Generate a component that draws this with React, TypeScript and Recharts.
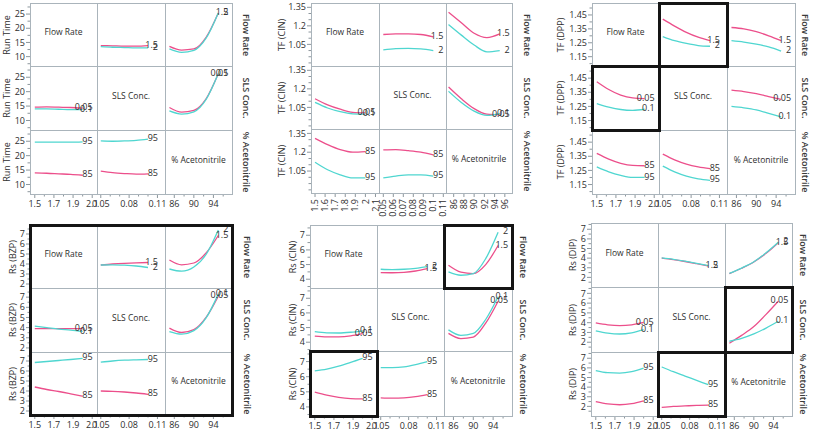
import React from 'react';
import { LineChart, Line, XAxis, YAxis } from 'recharts';

const PINK = '#ec4f8b';
const CYAN = '#4fd6d0';
const GRID = '#aab4bb';
const TICK = '#8d979d';
const INK = '#2e2e2e';
const FONT = '"Open Sans", "Noto Sans", sans-serif';

// factors (rows and columns of every matrix)
const factorNames = ['Flow Rate', 'SLS Conc.', '% Acetonitrile'];
const factorLevels = [['1.5', '2'], ['0.05', '0.1'], ['85', '95']];
const flowX = [1.5, 1.625, 1.75, 1.875, 2.0];
const slsX = [0.05, 0.0625, 0.075, 0.0875, 0.1];
const acnX = [85, 87.5, 90, 92.5, 95];
const factorX = [flowX, slsX, acnX];

// x ticks
const flowTicks = [1.5, 1.7, 1.9, 2.1];
const flowMinor = [1.6, 1.8, 2.0];
const slsTicks = [0.05, 0.08, 0.11];
const slsMinor = [0.06, 0.07, 0.09, 0.1];
const acnTicks = [86, 90, 94];
const acnMinor = [88, 92, 96];
const flowTicksFine = [1.5, 1.6, 1.7, 1.8, 1.9, 2, 2.1];
const slsTicksFine = [0.05, 0.06, 0.07, 0.08, 0.09, 0.1, 0.11];
const acnTicksFine = [86, 88, 90, 92, 94, 96];

// y ticks
const runTimeTicks = [10, 15, 20, 25];
const runTimeMinor = [7.5, 12.5, 17.5, 22.5, 27.5];
const tfCinTicks = [1.05, 1.2, 1.35];
const tfCinMinor = [0.9, 0.95, 1.0, 1.1, 1.15, 1.25, 1.3];
const tfDppTicks = [1.15, 1.25, 1.35, 1.45];
const tfDppMinor = [1.1, 1.2, 1.3, 1.4, 1.5];
const rsBzpTicks = [2, 3, 4, 5, 6, 7];
const rsBzpMinor = [2.5, 3.5, 4.5, 5.5, 6.5, 7.5];
const rsCinTicks = [4, 5, 6, 7];
const rsCinMinor = [3.5, 4.5, 5.5, 6.5, 7.5];
const rsDipTicks = [2, 3, 4, 5, 6, 7];
const rsDipMinor = [1.5, 2.5, 3.5, 4.5, 5.5, 6.5, 7.5];

type Curves = number[][] | null;

// [row][col] -> [low level of row factor (pink), high level (cyan)]
const runTimeCurves: Curves[][] = [
  [null, [[13.9, 13.8, 13.7, 13.7, 13.9], [13.5, 13.3, 13.2, 13.1, 13.1]], [[13.6, 12.3, 12.7, 16.8, 25.4], [12.7, 11.5, 12.2, 16.5, 25.4]]],
  [[[14.6, 14.7, 14.6, 14.5, 14.3], [14.0, 14.0, 13.9, 13.8, 13.8]], null, [[14.5, 12.9, 13.5, 17.5, 26.2], [13.3, 12.2, 13.0, 17.3, 26.3]]],
  [[[14.0, 13.9, 13.7, 13.5, 13.2], [24.7, 24.7, 24.7, 24.7, 24.8]], [[14.6, 14.1, 13.8, 13.6, 13.7], [25.1, 25.0, 25.1, 25.3, 25.7]], null],
];

const tfCinCurves: Curves[][] = [
  [null, [[1.13, 1.135, 1.135, 1.13, 1.11], [1.005, 1.015, 1.018, 1.013, 1.0]], [[1.31, 1.225, 1.14, 1.105, 1.135], [1.21, 1.125, 1.045, 0.99, 1.0]]],
  [[[1.12, 1.07, 1.035, 1.01, 1.005], [1.09, 1.045, 1.015, 0.998, 0.995]], null, [[1.215, 1.12, 1.04, 0.995, 0.99], [1.18, 1.09, 1.02, 0.985, 1.0]]],
  [[[1.31, 1.26, 1.22, 1.2, 1.205], [1.12, 1.06, 1.02, 0.995, 0.995]], [[1.218, 1.22, 1.212, 1.2, 1.178], [0.995, 1.01, 1.02, 1.02, 1.01]], null],
];

const tfDppCurves: Curves[][] = [
  [null, [[1.42, 1.37, 1.325, 1.29, 1.265], [1.295, 1.265, 1.245, 1.23, 1.225]], [[1.36, 1.35, 1.33, 1.3, 1.265], [1.265, 1.255, 1.24, 1.22, 1.19]]],
  [[[1.425, 1.37, 1.33, 1.31, 1.305], [1.27, 1.245, 1.228, 1.222, 1.23]], null, [[1.365, 1.355, 1.34, 1.32, 1.3], [1.25, 1.24, 1.225, 1.2, 1.175]]],
  [[[1.37, 1.33, 1.3, 1.285, 1.283], [1.275, 1.24, 1.215, 1.2, 1.2]], [[1.365, 1.325, 1.295, 1.275, 1.262], [1.28, 1.24, 1.21, 1.19, 1.18]], null],
];

const rsBzpCurves: Curves[][] = [
  [null, [[3.9, 4.0, 4.07, 4.12, 4.15], [3.9, 3.92, 3.88, 3.8, 3.65]], [[4.4, 3.92, 4.1, 5.1, 6.85], [3.5, 3.28, 3.7, 4.95, 7.4]]],
  [[[3.9, 3.9, 3.9, 3.9, 3.9], [4.15, 4.0, 3.85, 3.75, 3.62]], null, [[3.95, 3.52, 3.8, 5.0, 7.1], [3.6, 3.35, 3.7, 4.95, 7.3]]],
  [[[4.4, 4.15, 3.95, 3.72, 3.48], [6.85, 6.95, 7.05, 7.15, 7.27]], [[4.0, 3.97, 3.9, 3.8, 3.67], [6.88, 7.0, 7.08, 7.12, 7.15]], null],
];

const rsCinCurves: Curves[][] = [
  [null, [[4.45, 4.44, 4.47, 4.56, 4.72], [4.68, 4.66, 4.68, 4.74, 4.86]], [[4.95, 4.48, 4.38, 5.0, 6.3], [4.5, 4.27, 4.38, 5.4, 7.2]]],
  [[[4.42, 4.37, 4.37, 4.43, 4.58], [4.72, 4.64, 4.63, 4.68, 4.78]], null, [[4.6, 4.25, 4.35, 5.3, 6.8], [4.84, 4.47, 4.6, 5.55, 7.1]]],
  [[[4.98, 4.78, 4.63, 4.55, 4.53], [6.38, 6.5, 6.7, 6.95, 7.22]], [[4.6, 4.58, 4.6, 4.68, 4.82], [6.6, 6.6, 6.65, 6.8, 7.0]], null],
];

const rsDipCurves: Curves[][] = [
  [null, [[4.0, 3.85, 3.65, 3.42, 3.18], [4.02, 3.88, 3.68, 3.46, 3.22]], [[2.4, 2.95, 3.6, 4.5, 5.6], [2.42, 2.97, 3.62, 4.55, 5.65]]],
  [[[3.97, 3.78, 3.7, 3.78, 4.03], [3.17, 2.93, 2.84, 2.96, 3.28]], null, [[1.9, 2.7, 3.6, 4.85, 6.2], [2.1, 2.4, 2.85, 3.45, 4.15]]],
  [[[2.5, 2.25, 2.17, 2.28, 2.58], [5.72, 5.5, 5.45, 5.6, 5.97]], [[1.9, 2.0, 2.05, 2.1, 2.12], [6.1, 5.6, 5.15, 4.7, 4.25]], null],
];

interface Panel {
  yTitle: string;
  colX: number[];
  rowY: number[];
  yDomain: [number, number];
  yMajor: number[];
  yMinor: number[];
  xDomains: [number, number][];
  xMajor: number[][];
  xMinor: number[][];
  rotateX: boolean;
  curves: Curves[][];
  titleX: number;
  sideX: number;
  boxes: [number, number][];
  boxAll: boolean;
}

const stdX: [number, number][] = [[1.45, 2.15], [0.046, 0.118], [84.1, 97.8]];
const stdMajor = [flowTicks, slsTicks, acnTicks];
const stdMinor = [flowMinor, slsMinor, acnMinor];

const panels: Panel[] = [
  {
    yTitle: 'Run Time', colX: [30, 97, 165, 232], rowY: [3, 66, 130, 194],
    yDomain: [6.7, 28.9], yMajor: runTimeTicks, yMinor: runTimeMinor,
    xDomains: stdX, xMajor: stdMajor, xMinor: stdMinor, rotateX: false,
    curves: runTimeCurves, titleX: 6, sideX: 245.5, boxes: [], boxAll: false,
  },
  {
    yTitle: 'TF (CIN)', colX: [311, 379, 446, 512], rowY: [3, 66, 129, 193],
    yDomain: [0.875, 1.385], yMajor: tfCinTicks, yMinor: tfCinMinor,
    xDomains: [[1.46, 2.135], [0.0457, 0.1127], [84.5, 97.4]],
    xMajor: [flowTicksFine, slsTicksFine, acnTicksFine], xMinor: [[], [], []], rotateX: true,
    curves: tfCinCurves, titleX: 280.5, sideX: 527, boxes: [], boxAll: false,
  },
  {
    yTitle: 'TF (DPP)', colX: [592, 659, 727, 795], rowY: [3, 66, 130, 194],
    yDomain: [1.083, 1.536], yMajor: tfDppTicks, yMinor: tfDppMinor,
    xDomains: stdX, xMajor: stdMajor, xMinor: stdMinor, rotateX: false,
    curves: tfDppCurves, titleX: 560, sideX: 805, boxes: [[0, 1], [1, 0]], boxAll: false,
  },
  {
    yTitle: 'Rs (BZP)', colX: [30, 97, 165, 232], rowY: [225, 288, 352, 415],
    yDomain: [1.6, 7.9], yMajor: rsBzpTicks, yMinor: rsBzpMinor,
    xDomains: stdX, xMajor: stdMajor, xMinor: stdMinor, rotateX: false,
    curves: rsBzpCurves, titleX: 11.5, sideX: 247, boxes: [], boxAll: true,
  },
  {
    yTitle: 'Rs (CIN)', colX: [310, 377, 444, 512], rowY: [225, 288, 351, 416],
    yDomain: [3.4, 7.7], yMajor: rsCinTicks, yMinor: rsCinMinor,
    xDomains: stdX, xMajor: stdMajor, xMinor: stdMinor, rotateX: false,
    curves: rsCinCurves, titleX: 291.5, sideX: 523, boxes: [[0, 2], [2, 0]], boxAll: false,
  },
  {
    yTitle: 'Rs (DIP)', colX: [591, 658, 725, 792], rowY: [223, 287, 352, 416],
    yDomain: [1.0, 7.65], yMajor: rsDipTicks, yMinor: rsDipMinor,
    xDomains: stdX, xMajor: stdMajor, xMinor: stdMinor, rotateX: false,
    curves: rsDipCurves, titleX: 571.5, sideX: 803, boxes: [[1, 2], [2, 1]], boxAll: false,
  },
];

const isIn = (list: number[], v: number) => list.some((m) => Math.abs(m - v) < 1e-9);

const yTick = (major: number[]) => (props: any) => {
  const { x, y, payload } = props;
  const big = isIn(major, payload.value);
  return (
    <g>
      <line x1={x - (big ? 4 : 2.5)} x2={x} y1={y} y2={y} stroke={TICK} strokeWidth={1} />
      {big && (
        <text x={x - 5} y={y} dy="0.35em" textAnchor="end" fontSize={9} fill={INK} fontFamily={FONT}>
          {String(payload.value)}
        </text>
      )}
    </g>
  );
};

const xTick = (major: number[], rotate: boolean) => (props: any) => {
  const { x, y, payload } = props;
  const big = isIn(major, payload.value);
  return (
    <g>
      <line x1={x} x2={x} y1={y} y2={y + (big ? 4 : 2.5)} stroke={TICK} strokeWidth={1} />
      {big && !rotate && (
        <text x={x} y={y + 13} textAnchor="middle" fontSize={9} fill={INK} fontFamily={FONT}>
          {String(payload.value)}
        </text>
      )}
      {big && rotate && (
        <text transform={`translate(${x},${y + 6}) rotate(-90)`} dy="0.35em" textAnchor="end" fontSize={9} fill={INK} fontFamily={FONT}>
          {String(payload.value)}
        </text>
      )}
    </g>
  );
};

const endDot = (text: string, last: number) => (props: any) => {
  const { cx, cy, index } = props;
  if (index !== last || cx == null || cy == null) return <g key={`d${index}`} />;
  return (
    <text key={`d${index}`} x={cx + 10} y={cy - 1} dy="0.35em" textAnchor="end" fontSize={9} fill={INK} fontFamily={FONT}>
      {text}
    </text>
  );
};

function Cell({ p, r, c }: { p: Panel; r: number; c: number }) {
  const left = p.colX[c];
  const top = p.rowY[r];
  const w = p.colX[c + 1] - left;
  const h = p.rowY[r + 1] - top;
  const showY = c === 0;
  const showX = r === 2;
  const yw = showY ? 30 : 0;
  const xh = showX ? (p.rotateX ? 28 : 16) : 0;
  const curves = p.curves[r][c];
  const xs = factorX[c];
  const rows = xs.map((x, i) => ({
    x,
    a: curves ? curves[0][i] : null,
    b: curves ? curves[1][i] : null,
  }));
  const last = xs.length - 1;
  const lv = factorLevels[r];
  return (
    <div style={{ position: 'absolute', left: left - yw, top }}>
      <LineChart width={w + yw} height={h + xh} data={rows} margin={{ top: 0, right: 0, bottom: 0, left: 0 }}>
        <XAxis
          type="number"
          dataKey="x"
          domain={p.xDomains[c]}
          allowDataOverflow={!curves}
          hide={!showX}
          height={xh || 1}
          ticks={[...p.xMajor[c], ...p.xMinor[c]]}
          interval={0}
          tickLine={false}
          axisLine={false}
          tickSize={0}
          tickMargin={0}
          tick={xTick(p.xMajor[c], p.rotateX)}
        />
        <YAxis
          type="number"
          domain={p.yDomain}
          allowDataOverflow={!curves}
          hide={!showY}
          width={yw || 1}
          ticks={[...p.yMajor, ...p.yMinor]}
          interval={0}
          tickLine={false}
          axisLine={false}
          tickSize={0}
          tickMargin={0}
          tick={yTick(p.yMajor)}
        />
        {curves && (
          <Line type="monotone" dataKey="a" stroke={PINK} strokeWidth={1.3} dot={endDot(lv[0], last)} activeDot={false} isAnimationActive={false} />
        )}
        {curves && (
          <Line type="monotone" dataKey="b" stroke={CYAN} strokeWidth={1.3} dot={endDot(lv[1], last)} activeDot={false} isAnimationActive={false} />
        )}
      </LineChart>
      {!curves && (
        <div
          style={{
            position: 'absolute', left: yw, top: 0, width: w, height: h - 6,
            display: 'flex', alignItems: 'center', justifyContent: 'center',
            fontSize: 8.5, color: INK, fontFamily: FONT, whiteSpace: 'nowrap',
          }}
        >
          {factorNames[c]}
        </div>
      )}
    </div>
  );
}

function PanelView({ p }: { p: Panel }) {
  const x0 = p.colX[0];
  const x3 = p.colX[3];
  const y0 = p.rowY[0];
  const y3 = p.rowY[3];
  const cells: React.ReactNode[] = [];
  for (let r = 0; r < 3; r++) {
    for (let c = 0; c < 3; c++) cells.push(<Cell key={`${r}-${c}`} p={p} r={r} c={c} />);
  }
  return (
    <>
      {cells}
      {p.colX.map((x, i) => (
        <div key={`v${i}`} style={{ position: 'absolute', left: x, top: y0, width: 1, height: y3 - y0 + 1, background: GRID }} />
      ))}
      {p.rowY.map((y, i) => (
        <div key={`h${i}`} style={{ position: 'absolute', left: x0, top: y, width: x3 - x0 + 1, height: 1, background: GRID }} />
      ))}
      {[0, 1, 2].map((r) => {
        const cy = (p.rowY[r] + p.rowY[r + 1]) / 2;
        return (
          <React.Fragment key={`t${r}`}>
            <div
              style={{
                position: 'absolute', left: p.titleX, top: cy, transform: 'translate(-50%, -50%) rotate(-90deg)',
                fontSize: 9, color: INK, fontFamily: FONT, whiteSpace: 'nowrap', lineHeight: 1,
              }}
            >
              {p.yTitle}
            </div>
            <div
              style={{
                position: 'absolute', left: p.sideX, top: cy, transform: 'translate(-50%, -50%) rotate(90deg)',
                fontSize: 9, fontWeight: 600, color: '#3a3a3a', fontFamily: FONT, whiteSpace: 'nowrap', lineHeight: 1,
              }}
            >
              {factorNames[r]}
            </div>
          </React.Fragment>
        );
      })}
      {p.boxes.map(([r, c], i) => (
        <div
          key={`b${i}`}
          style={{
            position: 'absolute', left: p.colX[c] - 1, top: p.rowY[r] - 1,
            width: p.colX[c + 1] - p.colX[c] + 3, height: p.rowY[r + 1] - p.rowY[r] + 3,
            border: '3px solid #151515', boxSizing: 'border-box',
          }}
        />
      ))}
      {p.boxAll && (
        <div
          style={{
            position: 'absolute', left: x0 - 1, top: y0 - 1, width: x3 - x0 + 3, height: y3 - y0 + 3,
            border: '3px solid #151515', boxSizing: 'border-box',
          }}
        />
      )}
    </>
  );
}

export default function App() {
  return (
    <div
      style={{
        position: 'absolute', left: 0, top: 0, width: 813, height: 432,
        background: '#ffffff', overflow: 'hidden', fontFamily: FONT,
      }}
    >
      <style>{'.recharts-surface { overflow: visible; } .recharts-wrapper { overflow: visible; }'}</style>
      {panels.map((p, i) => (
        <PanelView key={i} p={p} />
      ))}
    </div>
  );
}
